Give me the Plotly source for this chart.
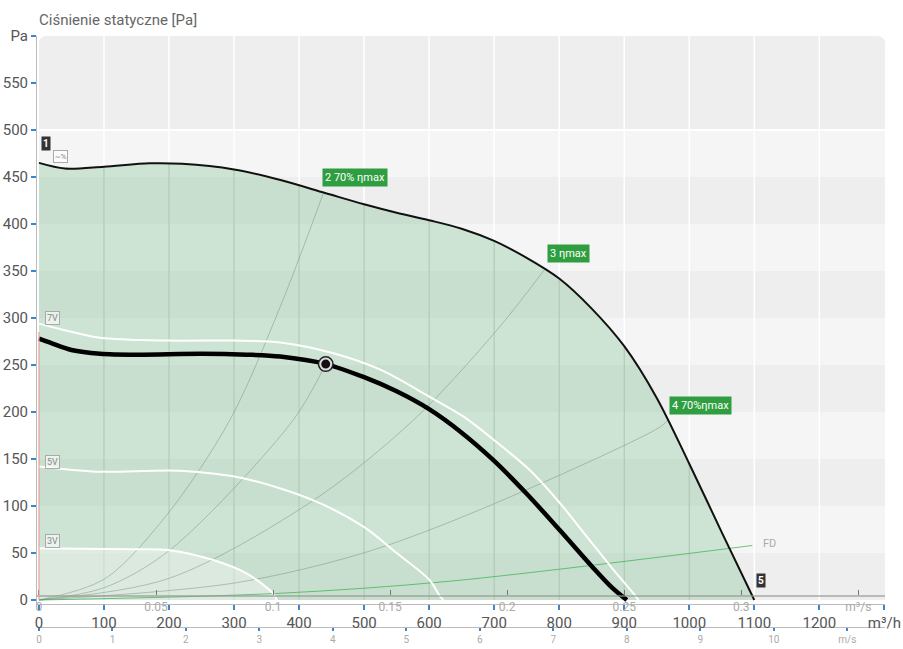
import numpy as np
import plotly.graph_objects as go

# ---- fan characteristics: flow [m³/h] vs static pressure [Pa] ----
q_max = [0, 40, 100, 170, 220, 300, 370, 440, 500, 550, 600, 650, 700, 750, 800, 850, 900, 950, 1000, 1050, 1100]
p_max = [465, 459, 461, 464.5, 464, 458, 447, 433, 421, 412, 404, 395, 382, 364, 342, 310, 270, 215, 145, 72, 0]

q_op = [0, 20, 50, 94, 150, 250, 320, 371, 441, 500, 550, 600, 650, 700, 750, 800, 850, 880, 904]
p_op = [278, 273, 266, 262, 261, 262, 261, 259, 251, 237, 222, 203, 178, 148, 113, 75, 36, 14, 0]
op_point = (441, 251)

q_7v = [0, 40, 94, 200, 300, 371, 450, 525, 601, 653, 700, 755, 800, 843, 880, 914, 922]
p_7v = [294, 287, 279, 276, 276, 274, 263, 245, 216, 195, 170, 138, 104, 67, 35, 7, 0]

q_5v = [0, 89, 217, 314, 422, 499, 550, 601, 617, 622]
p_5v = [142, 136.5, 137.5, 129.5, 106, 78, 50, 21, 3.5, 0]

q_3v = [0, 140, 201, 268, 320, 360, 366]
p_3v = [55, 54, 53, 42.5, 28, 7, 0]

# efficiency / system lines
q_eta2 = [0, 100, 196, 294, 371, 437]
p_eta2 = [0, 22, 90, 192, 312, 432]
q_sys = [0, 100, 201, 391, 441]
p_sys = [0, 13, 53, 191.5, 251]
q_eta3 = [0, 200, 422, 576, 704, 778]
p_eta3 = [0, 23, 106, 191.5, 287, 352]
q_eta4 = [0, 300, 499, 678, 955, 968]
p_eta4 = [0, 18, 50, 96, 184, 192]
q_fd = [0, 366, 632, 1097]
p_fd = [0, 7, 20, 58]

# ---- axis ticks ----
y_ticks = [0, 50, 100, 150, 200, 250, 300, 350, 400, 450, 500, 550, 600]
y_text = ["0", "50", "100", "150", "200", "250", "300", "350", "400", "450", "500", "550", "Pa"]
x_ticks = [0, 100, 200, 300, 400, 500, 600, 700, 800, 900, 1000, 1100, 1200, 1300]
x_text = ["0", "100", "200", "300", "400", "500", "600", "700", "800", "900", "1000", "1100", "1200", "m³/h"]
qs_ticks = [0, 0.05, 0.1, 0.15, 0.2, 0.25, 0.3, 0.35]
qs_text = ["0", "0.05", "0.1", "0.15", "0.2", "0.25", "0.3", "m³/s"]
v_ticks = [0, 1, 2, 3, 4, 5, 6, 7, 8, 9, 10, 11]
v_text = ["0", "1", "2", "3", "4", "5", "6", "7", "8", "9", "10", "m/s"]

X_RANGE = [-3, 1301]
Y_RANGE = [-4.26, 600]
M3H_PER_M3S = 3600.0
M3H_PER_MS = 113.0

FONT = "Roboto"
BLUE = "#3b86cf"
SPL = dict(shape="spline", smoothing=0.9)

fig = go.Figure()

# green operating field under the max curve
fig.add_trace(go.Scatter(x=q_max, y=p_max, mode="lines", fill="tozeroy",
                         fillcolor="rgba(120,190,140,0.32)",
                         line=dict(width=0, **SPL),
                         hoverinfo="skip", showlegend=False))
# lighter area under the lowest speed curve
fig.add_trace(go.Scatter(x=q_3v, y=p_3v, mode="lines", fill="tozeroy",
                         fillcolor="rgba(255,255,255,0.35)",
                         line=dict(width=0, **SPL),
                         hoverinfo="skip", showlegend=False))

# efficiency and system lines
GREY_LINE = "rgba(110,140,115,0.45)"
for qq, pp, col in [(q_eta2, p_eta2, GREY_LINE),
                    (q_sys, p_sys, GREY_LINE),
                    (q_eta3, p_eta3, GREY_LINE),
                    (q_eta4, p_eta4, GREY_LINE),
                    (q_fd, p_fd, "rgba(60,180,80,0.75)")]:
    fig.add_trace(go.Scatter(x=qq, y=pp, mode="lines",
                             line=dict(color=col, width=1, **SPL),
                             hoverinfo="skip", showlegend=False))

# speed curves
for qq, pp in [(q_7v, p_7v), (q_5v, p_5v), (q_3v, p_3v)]:
    fig.add_trace(go.Scatter(x=qq, y=pp, mode="lines",
                             line=dict(color="white", width=2, **SPL),
                             hoverinfo="skip", showlegend=False))

# working curve
fig.add_trace(go.Scatter(x=q_op, y=p_op, mode="lines",
                         line=dict(color="black", width=4.5, **SPL),
                         hoverinfo="skip", showlegend=False))
# max curve
fig.add_trace(go.Scatter(x=q_max, y=p_max, mode="lines",
                         line=dict(color="#111", width=2, **SPL),
                         hoverinfo="skip", showlegend=False))

# operating point
fig.add_trace(go.Scatter(x=[op_point[0]], y=[op_point[1]], mode="markers",
                         marker=dict(symbol="circle", size=16, color="#222",
                                     line=dict(width=0)),
                         hoverinfo="skip", showlegend=False))
fig.add_trace(go.Scatter(x=[op_point[0]], y=[op_point[1]], mode="markers",
                         marker=dict(symbol="circle", size=11, color="#111",
                                     line=dict(color="#ddd", width=2)),
                         hoverinfo="skip", showlegend=False))

# placeholders so the secondary flow / velocity axes get drawn
fig.add_trace(go.Scatter(x=[0], y=[-100], xaxis="x2", mode="markers",
                         marker=dict(opacity=0), hoverinfo="skip", showlegend=False))
fig.add_trace(go.Scatter(x=[0], y=[-100], xaxis="x3", mode="markers",
                         marker=dict(opacity=0), hoverinfo="skip", showlegend=False))

# ---- background panel ----
shapes = []
xr = 8 / 0.6503   # corner radius in data units
yr = 8 / 0.94
shapes.append(dict(type="path", layer="below", line=dict(width=0), fillcolor="#eeeeee",
                   path=f"M 0,500 L 0,{600 - yr} Q 0,600 {xr},600 L {1301 - xr},600 "
                        f"Q 1301,600 1301,{600 - yr} L 1301,500 Z"))
for i, lo in enumerate(range(0, 500, 50)):
    col = "#eeeeee" if i % 2 == 0 else "#f5f5f5"
    shapes.append(dict(type="rect", layer="below", x0=0, x1=1301, y0=lo, y1=lo + 50,
                       fillcolor=col, line=dict(width=0)))
shapes.append(dict(type="line", layer="below", x0=0, x1=1301, y0=500, y1=500,
                   line=dict(color="white", width=2)))
# vertical grid: grey inside the operating field, white above it
for q in x_ticks[1:-1]:
    pm = float(np.interp(q, q_max, p_max, right=0))
    if pm > 0:
        shapes.append(dict(type="line", layer="below", x0=q, x1=q, y0=0, y1=pm,
                           line=dict(color="#c4cac4", width=1)))
    shapes.append(dict(type="line", layer="below", x0=q, x1=q, y0=pm, y1=600,
                       line=dict(color="white", width=1.5)))
# reddish marker of the left limit
shapes.append(dict(type="line", layer="above", x0=0, x1=0, y0=0, y1=285,
                   line=dict(color="rgba(235,150,150,0.55)", width=2)))

annotations = []
# title
annotations.append(dict(text="Ciśnienie statyczne [Pa]", xref="paper", yref="paper",
                        x=0.0, y=1.026, xanchor="left", yanchor="middle", showarrow=False,
                        font=dict(family=FONT, size=15, color="#666")))
# efficiency labels
for txt, q, p in [("2 70% ηmax", 436, 449), ("3 ηmax", 781, 369), ("4 70%ηmax", 969, 207)]:
    annotations.append(dict(text=txt, x=q, y=p, xanchor="left", yanchor="middle",
                            showarrow=False, bgcolor="#2e9e40", borderpad=2,
                            font=dict(family=FONT, size=11, color="white")))
# speed labels
for txt, p in [("7V", 300), ("5V", 147), ("3V", 63)]:
    annotations.append(dict(text=txt, x=9, y=p, xanchor="left", yanchor="middle",
                            showarrow=False, bgcolor="rgba(255,255,255,0.6)",
                            bordercolor="#aaa", borderwidth=1, borderpad=1,
                            font=dict(family=FONT, size=9, color="#888")))
# curve markers
annotations.append(dict(text="<b>1</b>", x=11, y=486, xanchor="center", yanchor="middle",
                        showarrow=False, bgcolor="#333", borderpad=1,
                        font=dict(family=FONT, size=10, color="white")))
annotations.append(dict(text="~%", x=22, y=472, xanchor="left", yanchor="middle",
                        showarrow=False, bgcolor="rgba(255,255,255,0.7)",
                        bordercolor="#aaa", borderwidth=1, borderpad=1,
                        font=dict(family=FONT, size=8, color="#888")))
annotations.append(dict(text="<b>5</b>", x=1111, y=21, xanchor="center", yanchor="middle",
                        showarrow=False, bgcolor="#333", borderpad=1,
                        font=dict(family=FONT, size=10, color="white")))
annotations.append(dict(text="FD", x=1110, y=60, xanchor="left", yanchor="middle",
                        showarrow=False, font=dict(family=FONT, size=11, color="#aaa")))

H = 649
T = 36
paper_h = H - T


def pos(px):
    return (H - px) / paper_h


fig.update_layout(
    width=903, height=649, template="none",
    margin=dict(l=37, r=18, t=T, b=0),
    paper_bgcolor="white", plot_bgcolor="white",
    font=dict(family=FONT),
    showlegend=False,
    shapes=shapes, annotations=annotations,
    xaxis=dict(range=X_RANGE, tickvals=x_ticks, ticktext=x_text, showgrid=False,
               zeroline=False, showline=True, linecolor="#bbb", linewidth=1,
               ticks="outside", ticklen=5, tickcolor=BLUE, tickwidth=1.5,
               tickfont=dict(family=FONT, size=15, color="#555"), automargin=False,
               anchor="y"),
    xaxis2=dict(range=[X_RANGE[0] / M3H_PER_M3S, X_RANGE[1] / M3H_PER_M3S],
                tickvals=qs_ticks, ticktext=qs_text, overlaying="x", anchor="free",
                position=pos(596), side="bottom", showgrid=False, zeroline=False,
                showline=True, linecolor="rgba(150,150,150,0.6)", linewidth=2,
                ticks="inside", ticklen=5, tickcolor="#777", tickwidth=1,
                tickfont=dict(family=FONT, size=12, color="#aaa"), automargin=False),
    xaxis3=dict(range=[X_RANGE[0] / M3H_PER_MS, X_RANGE[1] / M3H_PER_MS],
                tickvals=v_ticks, ticktext=v_text, overlaying="x", anchor="free",
                position=pos(627), side="bottom", showgrid=False, zeroline=False,
                showline=True, linecolor="#bbb", linewidth=1,
                ticks="outside", ticklen=3, tickcolor=BLUE, tickwidth=1.5,
                tickfont=dict(family=FONT, size=10, color="#aaa"), automargin=False),
    yaxis=dict(range=Y_RANGE, domain=[pos(604), 1], tickvals=y_ticks, ticktext=y_text,
               showgrid=False, zeroline=False, showline=True, linecolor="#bbb",
               linewidth=1, ticks="outside", ticklen=5, tickcolor=BLUE, tickwidth=1.5,
               tickfont=dict(family=FONT, size=15, color="#555"), automargin=False),
)

fig.write_html("out.html")
